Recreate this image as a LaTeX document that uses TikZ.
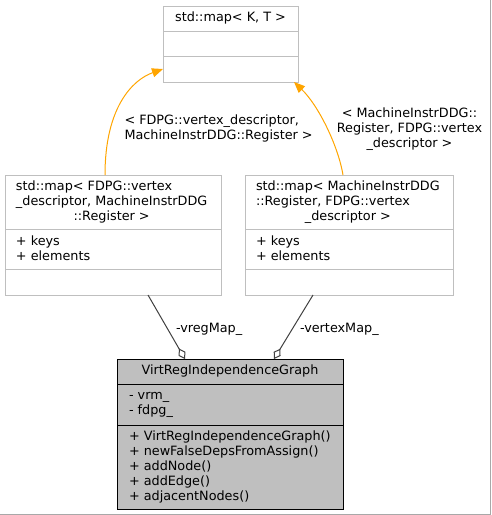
\documentclass[tikz,border=0pt]{standalone}
\usepackage{fontspec}
\setmainfont{DejaVu Sans}
\usetikzlibrary{arrows.meta}
\definecolor{boxgrey}{HTML}{BFBFBF}
\definecolor{edgegrey}{HTML}{404040}
\definecolor{framegrey}{HTML}{A8A8A8}
\definecolor{tmplorange}{HTML}{FFA500}
\newcommand{\rows}[1]{\begin{tabular}[t]{@{}l@{}}#1\end{tabular}}
\newcommand{\crows}[1]{\begin{tabular}[t]{@{}c@{}}#1\end{tabular}}
\newcommand{\lastrow}[1]{\multicolumn{1}{@{}c@{}}{#1}}
\begin{document}
\begin{tikzpicture}[x=1pt, y=-1pt, line width=1pt,
	cls/.style = {draw=boxgrey, fill=white, rectangle, anchor=north west, inner sep=0pt, outer sep=0pt},
	main/.style = {draw=black, fill=boxgrey, rectangle, anchor=north west, inner sep=0pt, outer sep=0pt},
	txt/.style = {anchor=base west, inner sep=0pt, font=\fontsize{12.8}{15}\selectfont},
	ctxt/.style = {txt, anchor=base},
	inst/.style = {draw=tmplorange, -{Triangle[length=11pt, width=9pt]}},
	aggr/.style = {draw=edgegrey, {Diamond[open, length=12pt, width=8pt]}-}]
	\useasboundingbox (0,0) rectangle (491,515);
	\draw[framegrey] (490.5,0) -- (490.5,514.5) -- (0,514.5);
	% template class
	\node[cls, minimum width=135pt, minimum height=76pt] (map) at (163,6) {};
	\draw[boxgrey] ([yshift=-25.3pt]map.north west) -- ([yshift=-25.3pt]map.north east);
	\draw[boxgrey] ([yshift=-50.7pt]map.north west) -- ([yshift=-50.7pt]map.north east);
	\node[ctxt] (mapname) at (230.5,21.7) {std::map< K, T >};
	% instances
	\node[cls, minimum width=216pt, minimum height=120pt] (vreg) at (5,175) {};
	\draw[boxgrey] ([yshift=-54.5pt]vreg.north west) -- ([yshift=-54.5pt]vreg.north east);
	\draw[boxgrey] ([yshift=-94.7pt]vreg.north west) -- ([yshift=-94.7pt]vreg.north east);
	\node[txt] (vregname) at (15.5,190.7) {\rows{std::map< FDPG::vertex\\\_descriptor, MachineInstrDDG\\\lastrow{::Register >}}};
	\node[txt] (vregattr) at (15.5,245.3) {\rows{+ keys\\+ elements}};
	\node[cls, minimum width=208pt, minimum height=120pt] (vert) at (245,175) {};
	\draw[boxgrey] ([yshift=-54.5pt]vert.north west) -- ([yshift=-54.5pt]vert.north east);
	\draw[boxgrey] ([yshift=-94.7pt]vert.north west) -- ([yshift=-94.7pt]vert.north east);
	\node[txt] (vertname) at (255.5,190.7) {\rows{std::map< MachineInstrDDG\\::Register, FDPG::vertex\\\lastrow{\_descriptor >}}};
	\node[txt] (vertattr) at (255.5,245.3) {\rows{+ keys\\+ elements}};
	% graph class
	\node[main, minimum width=226pt, minimum height=150pt] (graph) at (117,359) {};
	\draw ([yshift=-25pt]graph.north west) -- ([yshift=-25pt]graph.north east);
	\draw ([yshift=-66pt]graph.north west) -- ([yshift=-66pt]graph.north east);
	\node[ctxt] (graphname) at (230,374.7) {VirtRegIndependenceGraph};
	\node[txt] (graphattr) at (128.5,399.7) {\rows{- vrm\_\\- fdpg\_}};
	\node[txt] (graphops) at (128.5,440.7) {\rows{+ VirtRegIndependenceGraph()\\+ newFalseDepsFromAssign()\\+ addNode()\\+ addEdge()\\+ adjacentNodes()}};
	% edges
	\draw[inst] ([xshift=-8pt]vreg.north) .. controls (105,108) and (132,80) .. ([yshift=-25pt]map.west);
	\draw[inst] ([xshift=-6pt]vert.north) .. controls (338,145) and (318,105) .. ([xshift=-4pt]map.south east);
	\node[txt] (vreglbl) at (124,124.5) {\rows{< FDPG::vertex\_descriptor,\\MachineInstrDDG::Register >}};
	\node[ctxt] (vertlbl) at (409.5,117.2) {\crows{< MachineInstrDDG::\\Register, FDPG::vertex\\\_descriptor >}};
	\draw[aggr] ([xshift=-45pt]graph.north) -- ([xshift=35pt]vreg.south);
	\draw[aggr] ([xshift=44pt]graph.north) -- ([xshift=-36pt]vert.south);
	\node[txt] (vreglink) at (175.5,332.5) {-vregMap\_};
	\node[txt] (vertlink) at (299.5,332.5) {-vertexMap\_};
\end{tikzpicture}
\end{document}
